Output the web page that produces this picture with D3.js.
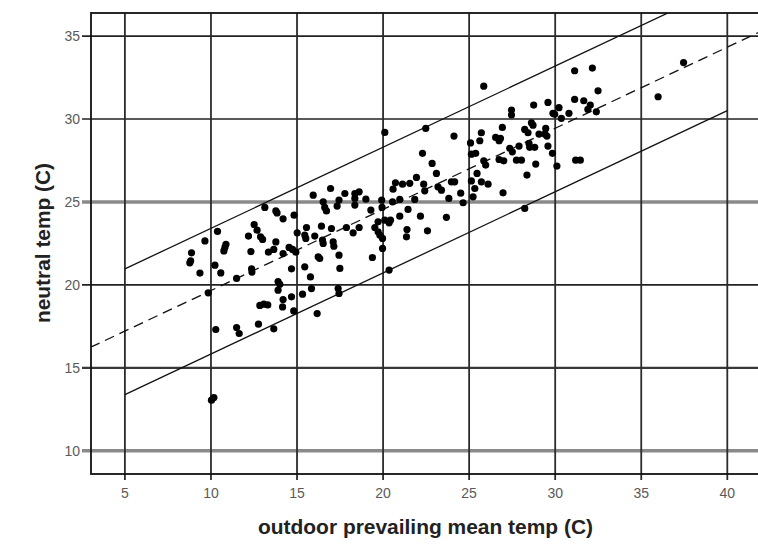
<!DOCTYPE html>
<html>
<head>
<meta charset="utf-8">
<script src="https://cdn.jsdelivr.net/npm/d3@7"></script>
<style>
  html, body { margin: 0; padding: 0; background: #fff; }
  svg { display: block; }
</style>
</head>
<body>
<svg id="chart" width="758" height="548"></svg>
<script>
// ---- data ----
const xTicks = [5, 10, 15, 20, 25, 30, 35, 40];
const yTicks = [10, 15, 20, 25, 30, 35];
const outdoorTemp = [
  13.13,13.77,13.84,14.19,14.83,10.38,12.51,12.68,12.18,12.88,13.0,15.01,9.65,10.87,10.81,10.75,12.32,13.77,13.65,13.34,
  14.19,14.54,14.74,14.93,8.87,8.82,8.77,10.23,10.57,9.36,12.36,12.38,11.49,14.68,13.90,14.0,13.90,9.84,14.19,14.68,
  12.84,13.07,13.30,14.16,14.81,10.28,11.49,11.64,12.76,13.65,10.03,10.17,
  20.10,22.48,24.12,22.29,22.85,23.10,21.94,20.72,20.58,21.13,21.55,22.36,22.42,23.19,23.39,23.97,24.16,24.51,
  23.82,16.95,15.94,17.78,18.36,18.61,18.36,18.36,19.0,16.52,16.61,16.71,17.33,17.44,19.29,19.92,19.94,20.55,
  20.97,21.45,21.84,22.17,23.68,20.97,20.43,20.35,19.71,19.52,19.71,19.81,19.97,20.10,21.39,21.36,22.58,19.97,
  20.35,19.38,15.55,15.45,15.51,16.03,16.42,17.0,16.48,16.52,17.10,17.14,17.87,18.26,18.61,16.23,16.32,17.44,
  17.49,15.45,15.78,15.84,15.32,17.39,17.44,16.17,
  25.85,31.13,32.16,32.49,31.13,31.66,32.04,31.90,32.39,28.75,29.58,30.22,29.87,29.97,30.36,30.80,27.46,27.46,
  28.62,28.71,28.23,28.42,29.06,29.39,29.45,29.52,26.93,25.71,25.62,25.08,26.54,26.82,26.74,27.90,28.48,28.52,
  28.81,27.36,27.51,29.58,29.84,25.13,25.38,25.85,25.96,26.74,27.01,27.75,28.04,28.87,30.10,31.19,31.46,25.46,
  25.13,25.71,26.10,28.36,25.33,25.23,26.97,24.65,28.23,37.46,35.98
];
const neutralTemp = [
  24.67,24.46,24.34,23.98,24.20,23.22,23.64,23.30,22.94,22.90,22.74,23.14,22.65,22.45,22.26,22.05,22.01,22.59,22.14,21.97,
  21.89,22.26,22.14,21.97,21.93,21.45,21.33,21.19,20.72,20.71,20.97,20.77,20.39,20.97,20.20,20.04,19.68,19.52,19.12,19.28,
  18.76,18.84,18.79,18.67,18.43,17.31,17.43,17.07,17.63,17.35,13.05,13.21,
  29.19,29.43,28.97,27.93,27.32,26.72,26.48,26.15,25.77,26.07,26.12,26.07,25.67,25.91,25.71,26.21,26.21,25.53,
  25.21,25.81,25.41,25.51,25.51,25.61,25.21,24.81,25.17,25.01,24.67,24.46,24.75,25.11,24.51,25.11,24.67,25.01,
  25.15,24.55,25.15,24.14,24.07,24.14,23.90,23.74,23.80,23.46,23.20,23.0,22.80,23.90,23.34,22.90,23.26,22.20,
  20.89,21.65,23.46,23.0,22.80,22.94,23.54,23.40,22.70,22.50,22.59,22.33,23.46,23.14,23.46,21.69,21.59,21.79,
  20.99,21.09,20.48,19.78,19.44,19.78,19.48,18.27,
  31.98,32.91,33.07,31.70,31.18,31.10,30.84,30.58,30.43,30.84,31.0,30.68,30.34,30.28,30.04,30.34,30.54,30.24,
  29.77,29.63,29.37,29.17,29.09,29.09,29.43,28.97,29.49,29.17,28.69,28.56,28.89,28.83,28.69,28.37,28.53,28.29,
  28.29,28.23,28.02,28.37,27.93,27.88,27.93,27.48,27.22,27.56,27.48,27.52,27.52,27.28,27.16,27.52,27.52,26.72,
  26.27,26.21,26.07,26.62,25.81,25.31,25.55,24.95,24.61,33.40,31.34
];
const fitCoef = [14.77, 0.489];      // intercept, slope of the dashed line
const bandOffsets = [3.75, -3.83];   // upper and lower solid lines
const bandRange = [5, 40];
const fitRange = [3, 42];
const xTitle = "outdoor prevailing mean temp (C)";
const yTitle = "neutral temp (C)";

// ---- drawing ----
(function draw() {
const svg = d3.select("#chart");
svg.append("rect").attr("width", 758).attr("height", 548).attr("fill", "#fff");

const pL = 91, pT = 13, pB = 474, pR = 760;
const x = d3.scaleLinear().domain([3.03, 41.9]).range([pL, pR]);
const y = d3.scaleLinear().domain([8.6, 36.39]).range([pB, pT]);

svg.append("defs").append("clipPath").attr("id", "plotclip")
  .append("rect").attr("x", pL).attr("y", pT)
  .attr("width", pR - pL + 10).attr("height", pB - pT);

const gridColor = "#222";

// horizontal grid + ticks
const hStyle = v => (v === 25 || v === 10) ? {c: "#8a8a8a", w: 3.4} : (v === 15 ? {c: "#383838", w: 2.2} : {c: gridColor, w: 1.7});
svg.append("g").selectAll("line").data(yTicks).join("line")
  .attr("x1", pL - 9).attr("x2", 770)
  .attr("y1", d => y(d)).attr("y2", d => y(d))
  .attr("stroke", d => hStyle(d).c).attr("stroke-width", d => hStyle(d).w);

// vertical grid + ticks
svg.append("g").selectAll("line").data(xTicks).join("line")
  .attr("x1", d => x(d)).attr("x2", d => x(d))
  .attr("y1", pT).attr("y2", pB + 6)
  .attr("stroke", "#2c2c2c").attr("stroke-width", 1.8);

// frame
svg.append("rect").attr("x", pL).attr("y", pT)
  .attr("width", 800).attr("height", pB - pT)
  .attr("fill", "none").attr("stroke", "#111").attr("stroke-width", 1.8);

// tick labels
svg.append("g").selectAll("text").data(yTicks).join("text")
  .attr("x", 80).attr("y", d => y(d) + 5)
  .attr("text-anchor", "end")
  .attr("font-family", "Liberation Sans, Arial, sans-serif")
  .attr("font-size", 14).attr("fill", "#5a5a5a")
  .text(d => d);
svg.append("g").selectAll("text").data(xTicks).join("text")
  .attr("x", d => x(d)).attr("y", 498)
  .attr("text-anchor", "middle")
  .attr("font-family", "Liberation Sans, Arial, sans-serif")
  .attr("font-size", 14).attr("fill", "#5a5a5a")
  .text(d => d);

// lines
const plot = svg.append("g").attr("clip-path", "url(#plotclip)");
const line = d3.line().x(d => x(d[0])).y(d => y(d[1]));
const fitY = v => fitCoef[0] + fitCoef[1] * v;

plot.append("path")
  .attr("d", line(fitRange.map(v => [v, fitY(v)])))
  .attr("fill", "none").attr("stroke", "#111").attr("stroke-width", 1.3)
  .attr("stroke-dasharray", "10,6");
bandOffsets.forEach(off => {
  plot.append("path")
    .attr("d", line(bandRange.map(v => [v, fitY(v) + off])))
    .attr("fill", "none").attr("stroke", "#111").attr("stroke-width", 1.3);
});

// points
plot.append("g").selectAll("circle").data(d3.range(outdoorTemp.length)).join("circle")
  .attr("cx", i => x(outdoorTemp[i])).attr("cy", i => y(neutralTemp[i]))
  .attr("r", 3.6).attr("fill", "#000");

// axis titles
svg.append("text")
  .attr("x", 425.5).attr("y", 534)
  .attr("text-anchor", "middle")
  .attr("font-family", "Liberation Sans, Arial, sans-serif")
  .attr("font-weight", "bold").attr("font-size", 20).attr("fill", "#222")
  .attr("textLength", 335).attr("lengthAdjust", "spacingAndGlyphs")
  .text(xTitle);
svg.append("text")
  .attr("transform", "translate(50,243) rotate(-90)")
  .attr("text-anchor", "middle")
  .attr("font-family", "Liberation Sans, Arial, sans-serif")
  .attr("font-weight", "bold").attr("font-size", 20).attr("fill", "#222")
  .attr("textLength", 160).attr("lengthAdjust", "spacingAndGlyphs")
  .text(yTitle);
})();
</script>
</body>
</html>
